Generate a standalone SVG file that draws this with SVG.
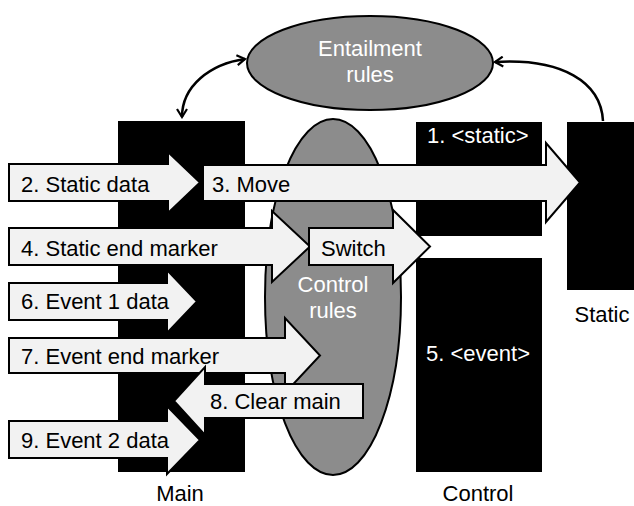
<svg xmlns="http://www.w3.org/2000/svg" width="634" height="506" viewBox="0 0 634 506">
  <defs>
    <style>
      .store { fill: #000; }
      .rules { fill: #8c8c8c; stroke: #000; stroke-width: 2; }
      .arrow { fill: #f2f2f2; stroke: #000; stroke-width: 2; stroke-linejoin: miter; }
      .link { fill: none; stroke: #000; stroke-width: 2.5; }
      text { font-family: "Liberation Sans", Arial, sans-serif; font-size: 22px; }
      .dark { fill: #000; }
      .light { fill: #fff; }
      .mid { text-anchor: middle; }
    </style>
    <marker id="open" viewBox="0 0 12 12" refX="10" refY="6" markerWidth="12" markerHeight="12" markerUnits="userSpaceOnUse" orient="auto-start-reverse">
      <path d="M2,1 L10,6 L2,11" fill="none" stroke="#000" stroke-width="2.2"/>
    </marker>
  </defs>

  <!-- stores -->
  <g id="main">
    <rect class="store" x="118" y="121" width="127" height="351"/>
    <text class="dark mid" x="180" y="501">Main</text>
  </g>
  <g id="control-static">
    <rect class="store" x="416" y="122" width="126" height="114"/>
    <text class="light" x="427" y="143">1. &lt;static&gt;</text>
  </g>
  <g id="control-event">
    <rect class="store" x="416" y="258" width="126" height="214"/>
    <text class="light" x="426" y="361">5. &lt;event&gt;</text>
  </g>
  <text class="dark mid" x="478" y="501">Control</text>
  <g id="static">
    <rect class="store" x="567" y="122" width="72" height="168"/>
    <text class="dark mid" x="602" y="322">Static</text>
  </g>

  <!-- rule sets -->
  <g id="entailment-rules">
    <ellipse class="rules" cx="370" cy="63" rx="123" ry="47"/>
    <text class="light mid" x="370" y="56">Entailment</text>
    <text class="light mid" x="370" y="82">rules</text>
  </g>
  <g id="control-rules">
    <ellipse class="rules" cx="333" cy="297" rx="68" ry="178"/>
    <text class="light mid" x="333" y="292">Control</text>
    <text class="light mid" x="333" y="318">rules</text>
  </g>

  <!-- steps -->
  <g id="connectors">
    <path class="link" d="M245,59 C210,64 182,86 182,117" marker-start="url(#open)" marker-end="url(#open)"/>
    <path class="link" d="M603,121 C601,82 562,58 495,62" marker-end="url(#open)"/>

    <g id="step2">
      <polygon class="arrow" points="9,164 168,164 168,152 200,182.5 168,213 168,201 9,201"/>
      <text class="dark" x="21" y="192">2. Static data</text>
    </g>
    <g id="step3">
      <polygon class="arrow" points="203,165 546,165 546,143 580,182.5 546,222 546,201 203,201"/>
      <text class="dark" x="212" y="192">3. Move</text>
    </g>
    <g id="step4">
      <polygon class="arrow" points="9,228 272,228 272,211 310,246.5 272,282 272,265 9,265"/>
      <text class="dark" x="21" y="256">4. Static end marker</text>
    </g>
    <g id="switch">
      <polygon class="arrow" points="309,228 393,228 393,210 430,246.5 393,283 393,265 309,265"/>
      <text class="dark" x="321" y="256">Switch</text>
    </g>
    <g id="step6">
      <polygon class="arrow" points="9,283 167,283 167,270 197,301.5 167,333 167,320 9,320"/>
      <text class="dark" x="21" y="309">6. Event 1 data</text>
    </g>
    <g id="step7">
      <polygon class="arrow" points="9,338 285,338 285,318 320,355.5 285,393 285,373 9,373"/>
      <text class="dark" x="21" y="364">7. Event end marker</text>
    </g>
    <g id="step8">
      <polygon class="arrow" points="363,384 205,384 205,367 174,401 205,435 205,418 363,418"/>
      <text class="dark" x="210" y="409">8. Clear main</text>
    </g>
    <g id="step9">
      <polygon class="arrow" points="9,421 167,421 167,406 200,440 167,474 167,458 9,458"/>
      <text class="dark" x="21" y="448">9. Event 2 data</text>
    </g>
  </g>
</svg>
